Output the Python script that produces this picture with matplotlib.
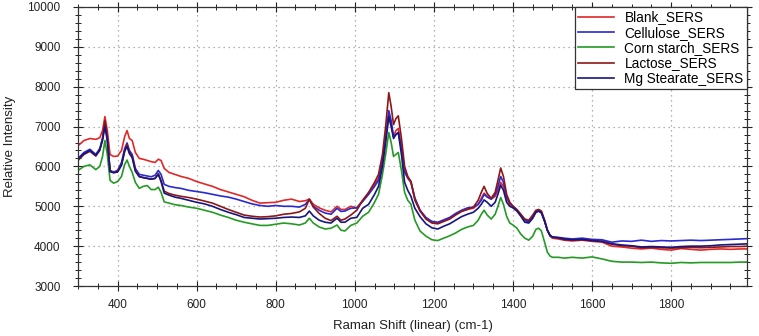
import matplotlib
matplotlib.use("Agg")
import matplotlib.pyplot as plt
from matplotlib.ticker import MultipleLocator

plt.rcParams['font.family'] = ['Liberation Sans', 'DejaVu Sans']

# Raman shift sample points (cm-1)
shift = [300, 315, 330, 345, 355, 362, 368, 374, 381, 390, 400, 410, 418, 424, 430, 437, 445, 455, 465, 475,
         485, 495, 503, 510, 518, 530, 545, 560, 580, 600, 620, 640, 660, 680, 700, 720, 740, 760, 780, 800,
         820, 840, 860, 875, 885, 895, 910, 925, 940, 955, 965, 975, 990, 1005, 1020, 1035, 1050, 1060, 1070, 1078,
         1086, 1092, 1098, 1104, 1110, 1118, 1126, 1134, 1142, 1152, 1165, 1180, 1195, 1210, 1225, 1240, 1255, 1270, 1285, 1300,
         1312, 1320, 1327, 1335, 1345, 1355, 1362, 1369, 1376, 1384, 1392, 1400, 1410, 1420, 1430, 1440, 1450, 1458, 1465, 1472,
         1480, 1487, 1494, 1500, 1515, 1530, 1550, 1575, 1600, 1625, 1650, 1675, 1700, 1725, 1750, 1775, 1800, 1825, 1850, 1875,
         1900, 1925, 1950, 1975, 1995]

blank = [6520, 6650, 6700, 6680, 6720, 6900, 7250, 6900, 6300, 6250, 6260, 6400, 6750, 6900, 6700, 6650, 6350, 6200, 6180, 6150,
         6120, 6100, 6180, 6150, 5950, 5850, 5800, 5750, 5700, 5620, 5560, 5500, 5420, 5360, 5300, 5240, 5150, 5080, 5090, 5100,
         5150, 5180, 5120, 5140, 5180, 5050, 4960, 4900, 4860, 5000, 4920, 4920, 5000, 4960, 5150, 5330, 5550, 5700, 6150, 6700,
         7300, 7050, 6750, 6900, 6950, 6500, 5900, 5700, 5600, 5200, 4900, 4700, 4600, 4580, 4640, 4700, 4800, 4880, 4930, 4950,
         5050, 5200, 5330, 5250, 5180, 5250, 5400, 5600, 5500, 5200, 5050, 5000, 4900, 4780, 4650, 4620, 4750, 4880, 4900, 4860,
         4650, 4400, 4250, 4200, 4180, 4150, 4130, 4150, 4120, 4100, 4000, 3980, 3950, 3930, 3950, 3920, 3900, 3940, 3920, 3900,
         3920, 3930, 3920, 3930, 3930]

cellulose = [6200, 6350, 6430, 6300, 6450, 6700, 7100, 6700, 5900, 5860, 5900, 6100, 6450, 6590, 6400, 6300, 5950, 5800, 5780, 5760,
             5740, 5780, 5900, 5800, 5550, 5500, 5470, 5450, 5400, 5370, 5340, 5300, 5260, 5230, 5180, 5120, 5060, 5020, 5000, 5020,
             5000, 5000, 4980, 5050, 5170, 5000, 4900, 4830, 4800, 4950, 4870, 4880, 4950, 4960, 5120, 5300, 5500, 5650, 6100, 6700,
             7400, 7150, 6750, 6800, 6850, 6450, 5850, 5720, 5620, 5200, 4900, 4720, 4620, 4600, 4660, 4720, 4820, 4900, 4960, 4980,
             5050, 5150, 5300, 5230, 5180, 5300, 5500, 5750, 5600, 5250, 5080, 5000, 4900, 4780, 4650, 4600, 4720, 4850, 4880, 4830,
             4620, 4400, 4270, 4230, 4220, 4200, 4180, 4200, 4170, 4160, 4100, 4130, 4120, 4150, 4120, 4140, 4130, 4140, 4150, 4140,
             4150, 4160, 4170, 4180, 4190]

corn_starch = [5900, 6000, 6040, 5920, 6000, 6250, 6650, 6300, 5650, 5580, 5620, 5750, 6050, 6160, 6000, 5850, 5600, 5450, 5500, 5520,
               5420, 5420, 5480, 5350, 5110, 5080, 5040, 5020, 4980, 4950, 4900, 4850, 4780, 4720, 4650, 4600, 4560, 4520, 4520, 4550,
               4580, 4560, 4530, 4580, 4700, 4580, 4480, 4430, 4450, 4530, 4400, 4380, 4520, 4580, 4750, 4850, 5100, 5300, 5800, 6300,
               6850, 6600, 6250, 6300, 6350, 5900, 5350, 5150, 5050, 4650, 4380, 4250, 4160, 4140, 4200, 4260, 4330, 4420, 4480, 4520,
               4650, 4800, 4900, 4780, 4680, 4800, 5000, 5220, 5050, 4750, 4580, 4530, 4450, 4300, 4200, 4150, 4250, 4420, 4450, 4380,
               4100, 3850, 3750, 3720, 3720, 3700, 3720, 3700, 3730, 3680, 3620, 3600, 3600, 3590, 3600, 3580, 3570, 3590, 3580, 3590,
               3590, 3590, 3590, 3600, 3600]

lactose = [6150, 6300, 6380, 6260, 6400, 6700, 7150, 6750, 5880, 5850, 5870, 6050, 6400, 6550, 6350, 6250, 5900, 5750, 5720, 5700,
           5680, 5700, 5820, 5650, 5380, 5320, 5280, 5250, 5220, 5180, 5130, 5080, 5000, 4920, 4850, 4780, 4750, 4730, 4740, 4760,
           4800, 4820, 4860, 4950, 5180, 4980, 4820, 4700, 4640, 4750, 4650, 4680, 4780, 4900, 5150, 5350, 5600, 5800, 6300, 7000,
           7850, 7500, 7050, 7200, 7270, 6700, 6000, 5750, 5620, 5150, 4880, 4680, 4580, 4560, 4620, 4680, 4780, 4870, 4920, 4980,
           5150, 5350, 5500, 5320, 5200, 5350, 5650, 5960, 5750, 5300, 5100, 5000, 4920, 4800, 4680, 4650, 4780, 4900, 4920, 4880,
           4650, 4400, 4260, 4220, 4200, 4160, 4150, 4160, 4140, 4120, 4050, 4010, 4000, 3960, 3970, 3960, 3950, 3960, 3970, 3960,
           3970, 3980, 3990, 3990, 4000]

mg_stearate = [6180, 6320, 6400, 6280, 6420, 6650, 7000, 6650, 5870, 5840, 5860, 6030, 6380, 6500, 6320, 6220, 5880, 5740, 5720, 5700,
               5680, 5700, 5800, 5620, 5330, 5280, 5230, 5200, 5150, 5100, 5060, 5000, 4920, 4850, 4790, 4720, 4700, 4680, 4690, 4700,
               4720, 4730, 4720, 4760, 4880, 4760, 4650, 4600, 4580, 4700, 4600, 4600, 4700, 4720, 4950, 5050, 5300, 5500, 6000, 6600,
               7250, 7000, 6700, 6800, 6850, 6300, 5600, 5400, 5250, 4950, 4740, 4560, 4460, 4430, 4500, 4560, 4650, 4740, 4800, 4850,
               4950, 5050, 5160, 5100, 5000, 5100, 5300, 5530, 5400, 5100, 5000, 4960, 4880, 4750, 4600, 4580, 4700, 4850, 4880, 4840,
               4630, 4400, 4270, 4230, 4210, 4180, 4160, 4170, 4140, 4120, 4060, 4030, 4010, 3980, 3990, 3980, 3970, 3990, 4000, 4000,
               4010, 4030, 4040, 4050, 4060]

series_labels = ["Blank_SERS", "Cellulose_SERS", "Corn starch_SERS", "Lactose_SERS", "Mg Stearate_SERS"]
series_colors = ["#e02828", "#2a2ad2", "#259a25", "#8e1616", "#16167e"]

fig = plt.figure(figsize=(7.59, 3.36), dpi=100)
ax = fig.add_axes([0.1028, 0.1488, 0.8814, 0.8304])

for ys, lab, col in zip([blank, cellulose, corn_starch, lactose, mg_stearate], series_labels, series_colors):
    ax.plot(shift, ys, color=col, lw=1.2, label=lab)

ax.set_xlim(300, 1992)
ax.set_ylim(3000, 10000)
ax.xaxis.set_major_locator(MultipleLocator(200))
ax.xaxis.set_minor_locator(MultipleLocator(50))
ax.yaxis.set_major_locator(MultipleLocator(1000))
ax.yaxis.set_minor_locator(MultipleLocator(200))
ax.tick_params(which='both', direction='inout', top=True, right=True, colors='#222222', labelsize=8.5)
ax.tick_params(which='major', length=7, width=0.8, pad=6)
ax.tick_params(which='minor', length=4, width=0.7)
ax.tick_params(axis='y', pad=9)
for s in ax.spines.values():
    s.set_linewidth(0.9)
    s.set_color('#333333')

ax.grid(True, which='major', color='#9a9a9a', linestyle=(0, (1, 3)), linewidth=0.9)

ax.set_xlabel("Raman Shift (linear) (cm-1)", fontsize=9.5, color='#222222', labelpad=6)
ax.set_ylabel("Relative Intensity", fontsize=9.5, color='#222222', labelpad=8)

leg = ax.legend(loc='upper right', bbox_to_anchor=(1.0, 1.0), borderaxespad=0.0, fontsize=9.8,
                fancybox=False, framealpha=1.0, edgecolor='#333333', handlelength=2.6,
                handletextpad=0.8, labelspacing=0.1, borderpad=0.25)
leg.get_frame().set_linewidth(0.9)

fig.savefig("out.png", dpi=100)
